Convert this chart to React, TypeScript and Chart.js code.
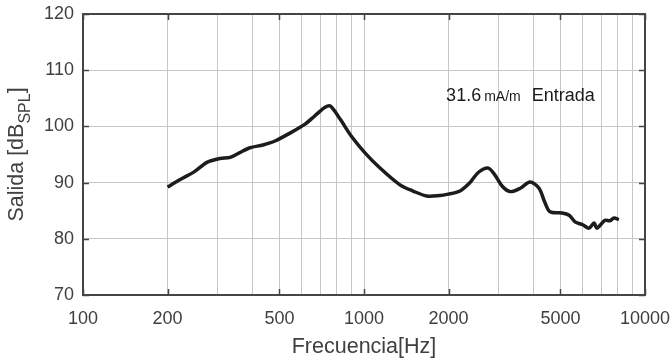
import React, { useEffect, useRef } from "react";
import { Chart, registerables } from "chart.js";

Chart.register(...registerables);

// ---- data ----
const frequencies = [
  200, 221, 250, 276, 307, 334, 360, 393, 437, 482, 545, 617, 669, 727, 760,
  822, 906, 1008, 1140, 1343, 1494, 1675, 1863, 1974, 2196, 2384, 2550, 2761,
  2900, 3100, 3311, 3600, 3898, 4196, 4400, 4592, 5070, 5373, 5640, 6000, 6327,
  6589, 6742, 7205, 7500, 7760, 8075,
];
const salida = [
  89.2, 90.5, 92.0, 93.6, 94.3, 94.5, 95.3, 96.2, 96.7, 97.4, 98.8, 100.4,
  101.9, 103.4, 103.6, 101.3, 98.1, 95.3, 92.6, 89.6, 88.5, 87.6, 87.7, 87.9,
  88.5, 90.0, 91.8, 92.6, 91.6, 89.4, 88.4, 89.0, 90.1, 89.0, 86.5, 84.8, 84.6,
  84.2, 83.0, 82.5, 81.9, 82.8, 81.9, 83.3, 83.2, 83.7, 83.4,
];
const gridFrequencies = [
  100, 200, 300, 400, 500, 600, 700, 800, 900, 1000, 2000, 3000, 4000, 5000,
  6000, 7000, 8000, 9000, 10000,
];
const labeledFrequencies = [100, 200, 500, 1000, 2000, 5000, 10000];
const yTicks = [70, 80, 90, 100, 110, 120];

const annotationValue = "31.6";
const annotationUnit = "mA/m";
const annotationLabel = "Entrada";
const annotationFreq = 1960;
const annotationDb = 104.5;

const xTitle = "Frecuencia[Hz]";
const yTitleMain = "Salida [dB";
const yTitleSub = "SPL";
const yTitleEnd = "]";

// ---- styles ----
const FONT = "'Liberation Sans', Arial, Helvetica, sans-serif";
const AXIS_COLOR = "#454545";
const LABEL_COLOR = "#404040";
const GRID_COLOR = "#c6c6c6";

const decorPlugin = {
  id: "decor",
  afterDraw(chart: any) {
    const { ctx, chartArea: a, scales } = chart;
    const xs = scales.x;
    const ys = scales.y;
    ctx.save();

    // inward tick marks
    const TL = 6;
    ctx.strokeStyle = AXIS_COLOR;
    ctx.lineWidth = 1.5;
    ctx.beginPath();
    labeledFrequencies.forEach((f) => {
      const px = Math.round(xs.getPixelForValue(f)) + 0.5;
      ctx.moveTo(px, a.bottom);
      ctx.lineTo(px, a.bottom - TL);
      ctx.moveTo(px, a.top);
      ctx.lineTo(px, a.top + TL);
    });
    yTicks.forEach((v) => {
      const py = Math.round(ys.getPixelForValue(v)) + 0.5;
      ctx.moveTo(a.left, py);
      ctx.lineTo(a.left + TL, py);
      ctx.moveTo(a.right, py);
      ctx.lineTo(a.right - TL, py);
    });
    ctx.stroke();

    // box
    ctx.lineWidth = 2;
    ctx.strokeRect(a.left, a.top, a.right - a.left, a.bottom - a.top);

    // annotation
    const ax = xs.getPixelForValue(annotationFreq);
    const ay = ys.getPixelForValue(annotationDb);
    ctx.fillStyle = "#1a1a1a";
    ctx.textBaseline = "alphabetic";
    ctx.textAlign = "left";
    ctx.font = `18px ${FONT}`;
    ctx.fillText(annotationValue, ax, ay);
    let cx = ax + ctx.measureText(annotationValue).width + 3;
    ctx.font = `14px ${FONT}`;
    ctx.fillText(annotationUnit, cx, ay);
    cx += ctx.measureText(annotationUnit).width + 11;
    ctx.font = `18px ${FONT}`;
    ctx.fillText(annotationLabel, cx, ay);

    // x title
    ctx.fillStyle = LABEL_COLOR;
    ctx.font = `21.5px ${FONT}`;
    ctx.textAlign = "center";
    ctx.fillText(xTitle, (a.left + a.right) / 2, a.bottom + 58);

    // y title (rotated, with subscript)
    const mainFont = `21.5px ${FONT}`;
    const subFont = `16px ${FONT}`;
    ctx.font = mainFont;
    const w1 = ctx.measureText(yTitleMain).width;
    const w3 = ctx.measureText(yTitleEnd).width;
    ctx.font = subFont;
    const w2 = ctx.measureText(yTitleSub).width;
    const total = w1 + w2 + w3;
    ctx.translate(23, (a.top + a.bottom) / 2);
    ctx.rotate(-Math.PI / 2);
    ctx.textAlign = "left";
    let tx = -total / 2;
    ctx.font = mainFont;
    ctx.fillText(yTitleMain, tx, 0);
    tx += w1;
    ctx.font = subFont;
    ctx.fillText(yTitleSub, tx, 7);
    tx += w2;
    ctx.font = mainFont;
    ctx.fillText(yTitleEnd, tx, 0);

    ctx.restore();
  },
};

const zeroPad = (s: any) => {
  s.paddingLeft = 0;
  s.paddingRight = 0;
  s.paddingTop = 0;
  s.paddingBottom = 0;
};

export default function App() {
  const canvasRef = useRef<HTMLCanvasElement | null>(null);

  useEffect(() => {
    const canvas = canvasRef.current;
    if (!canvas) return;
    const chart = new Chart(canvas, {
      type: "line",
      data: {
        datasets: [
          {
            data: frequencies.map((f, i) => ({ x: f, y: salida[i] })),
            borderColor: "#1c1c1c",
            borderWidth: 3.5,
            pointRadius: 0,
            tension: 0.3,
            fill: false,
          },
        ],
      },
      options: {
        responsive: false,
        animation: false,
        devicePixelRatio: 1,
        layout: { padding: { left: 0, right: 27, top: 14, bottom: 0 } },
        plugins: {
          legend: { display: false },
          tooltip: { enabled: false },
        },
        scales: {
          x: {
            type: "logarithmic",
            min: 100,
            max: 10000,
            afterBuildTicks: (s: any) => {
              s.ticks = gridFrequencies.map((v) => ({ value: v }));
            },
            afterFit: (s: any) => {
              s.height = 65;
              zeroPad(s);
            },
            grid: { color: GRID_COLOR, lineWidth: 1, drawTicks: false },
            border: { display: false },
            ticks: {
              autoSkip: false,
              maxRotation: 0,
              minRotation: 0,
              padding: 13,
              color: LABEL_COLOR,
              font: { family: FONT, size: 18 },
              callback: (v: any) =>
                labeledFrequencies.includes(Number(v)) ? String(v) : "",
            },
          },
          y: {
            type: "linear",
            min: 70,
            max: 120,
            afterBuildTicks: (s: any) => {
              s.ticks = yTicks.map((v) => ({ value: v }));
            },
            afterFit: (s: any) => {
              s.width = 83;
              zeroPad(s);
            },
            grid: { color: GRID_COLOR, lineWidth: 1, drawTicks: false },
            border: { display: false },
            ticks: {
              padding: 9,
              color: LABEL_COLOR,
              font: { family: FONT, size: 18 },
            },
          },
        },
      },
      plugins: [decorPlugin],
    });
    return () => chart.destroy();
  }, []);

  return (
    <div style={{ position: "absolute", left: 0, top: 0, width: 672, height: 360 }}>
      <canvas ref={canvasRef} width={672} height={360} />
    </div>
  );
}
